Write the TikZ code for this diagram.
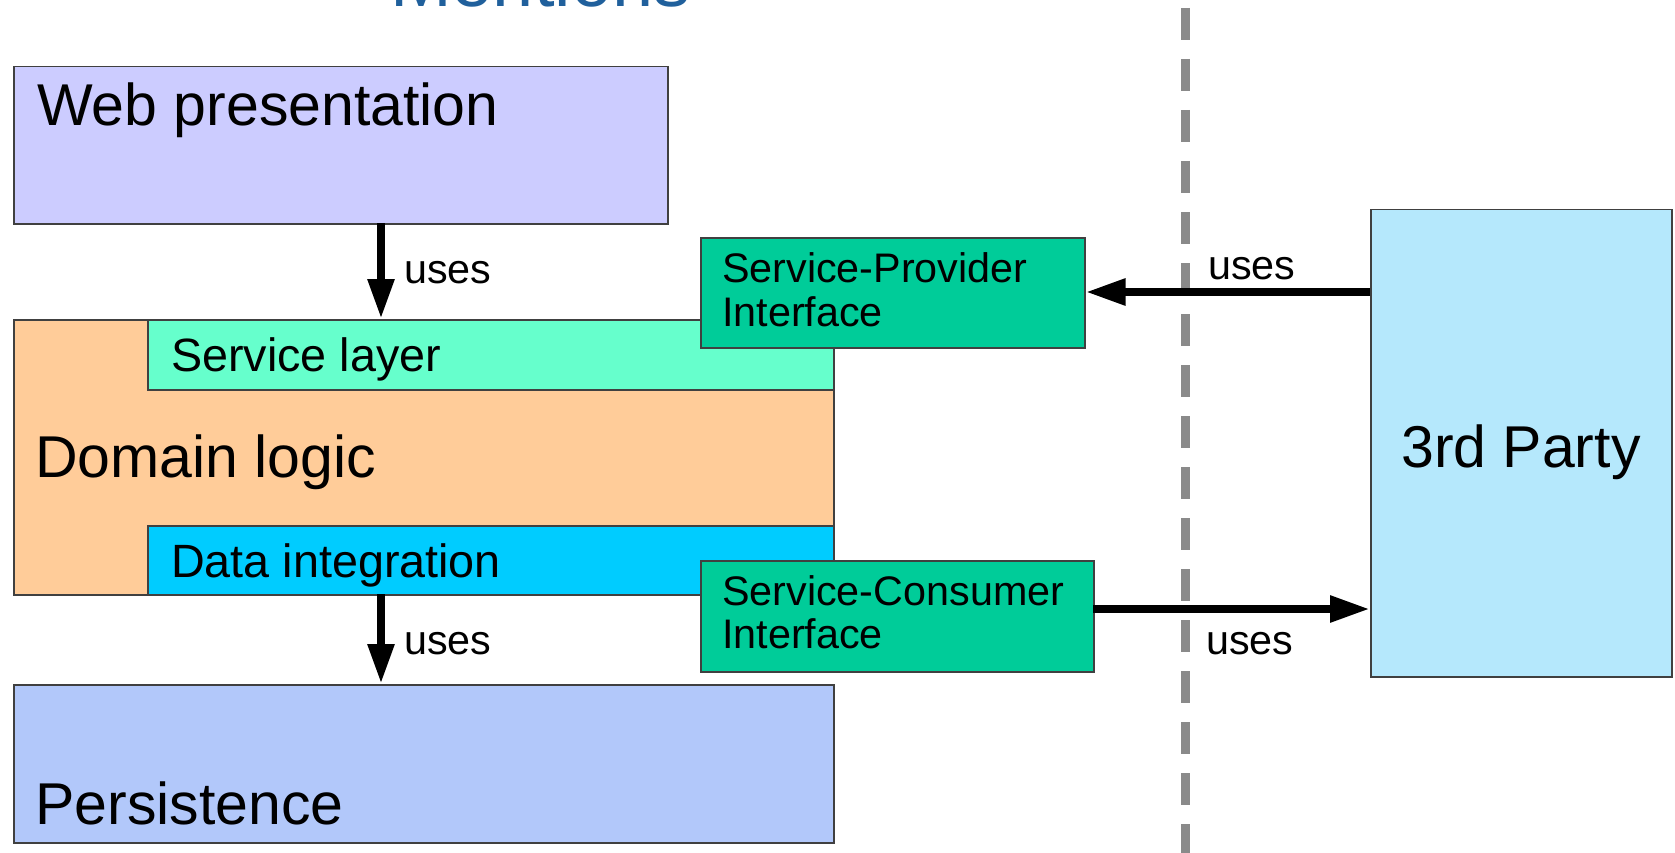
\documentclass[tikz,border=0pt]{standalone}
\usepackage{fontspec}
\setmainfont{Liberation Sans}
\usetikzlibrary{arrows.meta}
\definecolor{webc}{HTML}{CCCCFF}
\definecolor{domc}{HTML}{FFCC99}
\definecolor{svcc}{HTML}{66FFCC}
\definecolor{datac}{HTML}{00CCFF}
\definecolor{ifc}{HTML}{00CC99}
\definecolor{thirdc}{HTML}{B5E8FC}
\definecolor{persc}{HTML}{B2C8FA}
\definecolor{borderc}{HTML}{404040}
\definecolor{titlec}{HTML}{20609C}
\definecolor{dashc}{HTML}{8A8A8A}
\begin{document}
\begin{tikzpicture}[x=1pt,y=-1pt,
  box/.style={draw=borderc, line width=1.5pt, inner sep=0pt, anchor=north west},
  txt/.style={anchor=base west, inner sep=0pt, text=black},
  big/.style={txt, font=\fontsize{59}{70}\selectfont},
  mid/.style={txt, font=\fontsize{46.7}{56}\selectfont},
  small/.style={txt, font=\fontsize{41.3}{49}\selectfont},
  arr/.style={line width=8.5pt, -{Triangle[length=40pt,width=25pt]}},
  sepline/.style={dashc, line width=9pt, dash pattern=on 32pt off 19pt, dash phase=-8pt}
]
\useasboundingbox (0,0) rectangle (1675,853);
\fill[white] (0,0) rectangle (1675,853);

% title, cut off at the top
\begin{scope}
\clip (0,0) rectangle (1675,853);
\node[anchor=base west, inner sep=0pt, text=titlec, font=\fontsize{74}{88}\selectfont] (title) at (390,7) {Mentions};
\end{scope}

% separator
\coordinate (sepTop) at (1185.5,0);
\coordinate (sepBot) at (1185.5,853);
\draw[sepline] (sepTop) -- (sepBot);

% boxes
\node[box, fill=webc, minimum width=654pt, minimum height=157pt] (web) at (13,66) {};
\node[box, fill=domc, minimum width=820pt, minimum height=275pt] (dom) at (13,319) {};
\node[box, fill=svcc, minimum width=686pt, minimum height=70pt] (svc) at (147,319) {};
\node[box, fill=datac, minimum width=686pt, minimum height=69pt] (data) at (147,525) {};
\node[box, fill=persc, minimum width=820pt, minimum height=158pt] (pers) at (13,684) {};
\node[box, fill=ifc, minimum width=384pt, minimum height=110pt] (sp) at (700,237) {};
\node[box, fill=ifc, minimum width=393pt, minimum height=111pt] (sc) at (700,560) {};
\node[box, fill=thirdc, minimum width=301pt, minimum height=467pt] (third) at (1370,209) {};

% texts
\node[big] (webT) at (37,126) {Web presentation};
\node[big] (domT) at (35,477) {Domain logic};
\node[big] (persT) at (35,824) {Persistence};
\node[big] (thirdT) at (1401,467) {3rd Party};
\node[mid] (svcT) at (171,371) {Service layer};
\node[mid] (dataT) at (171,577) {Data integration};
\node[small] (spT1) at (722,282) {Service-Provider};
\node[small] (spT2) at (722,326) {Interface};
\node[small] (scT1) at (722,605) {Service-Consumer};
\node[small] (scT2) at (722,648) {Interface};

% connectors
\coordinate (a1) at (381,223);
\draw[arr] (a1) -- (a1 |- dom.north);
\coordinate (a2) at (381,594);
\draw[arr] (a2) -- (a2 |- pers.north);
\coordinate (a3) at (1370,292);
\draw[arr] (a3) -- (a3 -| sp.east);
\coordinate (a4) at (1093,609);
\draw[arr] (a4) -- (a4 -| third.west);

\node[small] (u1) at (404,283) {uses};
\node[small] (u2) at (404,654) {uses};
\node[small] (u3) at (1208,279) {uses};
\node[small] (u4) at (1206,654) {uses};
\end{tikzpicture}
\end{document}
